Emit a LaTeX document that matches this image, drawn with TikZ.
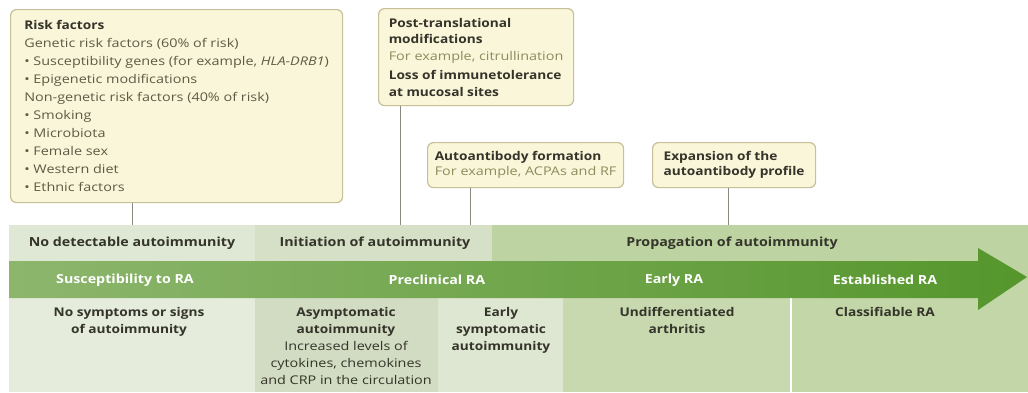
\documentclass[tikz,border=0pt]{standalone}
\usepackage{fontspec}
\setmainfont{Open Sans}[FakeStretch=1.2, BoldFeatures={FakeStretch=1.14}]
\usetikzlibrary{positioning, calc}
\definecolor{colorbox}{HTML}{FAF6DA}
\definecolor{colorboxline}{HTML}{C6BF98}
\definecolor{colortext}{HTML}{34342A}
\definecolor{colorsub}{HTML}{5C5B45}
\definecolor{colorolive}{HTML}{8E8B5C}
\definecolor{colorlink}{HTML}{8A8A80}
\definecolor{colorbandA}{HTML}{DFE8D4}
\definecolor{colorbandB}{HTML}{D5E0C6}
\definecolor{colorbandC}{HTML}{BED3A2}
\definecolor{colorrowA}{HTML}{E5ECDC}
\definecolor{colorrowB}{HTML}{D2DCC2}
\definecolor{colorrowC}{HTML}{DEE7D1}
\definecolor{colorrowD}{HTML}{C8D9B0}
\definecolor{colorrowE}{HTML}{C2D6A7}
\definecolor{colorarrowL}{HTML}{8DB66D}
\definecolor{colorarrowR}{HTML}{55962C}
\tikzstyle{box}=[draw=colorboxline, fill=colorbox, rounded corners=6pt, line width=1.2pt, anchor=north west, align=left, inner sep=0pt, text=colortext, font=\fontsize{12}{16.5}\selectfont]
\tikzstyle{link}=[draw=colorlink, line width=.8pt]
\tikzstyle{bandtext}=[text=colortext, font=\bfseries\fontsize{12.5}{14}\selectfont]
\tikzstyle{arrowtext}=[text=white, font=\bfseries\fontsize{12.5}{14}\selectfont]
\tikzstyle{rowtext}=[anchor=north, align=center, text=colortext, font=\fontsize{12}{17}\selectfont]

\begin{document}
\begin{tikzpicture}[x=1pt, y=-1pt, node distance=1em and .8em]
\useasboundingbox (0,0) rectangle (1028,392);

% bands
\fill[colorbandA] (9,225) rectangle (255,261);
\fill[colorbandB] (255,225) rectangle (492,261);
\fill[colorbandC] (492,225) rectangle (1028,280);
\fill[colorrowA] (9,298) rectangle (255,392);
\fill[colorrowB] (255,298) rectangle (438,392);
\fill[colorrowC] (438,298) rectangle (563,392);
\fill[colorrowD] (563,298) rectangle (791,392);
\fill[colorrowE] (791,280) rectangle (1028,392);
\draw[white, line width=1.5pt] (791,298) -- (791,392);
\shade[left color=colorarrowL, right color=colorarrowR] (9,261) -- (978,261) -- (978,248) -- (1027,277) -- (978,310) -- (978,298) -- (9,298) -- cycle;

% boxes
\node[box, text=colorsub, minimum width=332pt, minimum height=193pt, font=\fontsize{12}{18}\selectfont](risk) at (10,9){{\color{colortext}\textbf{Risk factors}}\\
Genetic risk factors (60\% of risk)\\
\textbullet~Susceptibility genes (for example, \textit{HLA-DRB1})\\
\textbullet~Epigenetic modifications\\
Non-genetic risk factors (40\% of risk)\\
\textbullet~Smoking\\
\textbullet~Microbiota\\
\textbullet~Female sex\\
\textbullet~Western diet\\
\textbullet~Ethnic factors};
\node[box, minimum width=195pt, minimum height=97pt](ptm) at (378,8){\textbf{Post-translational}\\
\textbf{modifications}\\
{\color{colorolive}For example, citrullination}\\[3pt]
\textbf{Loss of immunetolerance}\\
\textbf{at mucosal sites}};
\node[box, minimum width=196pt, minimum height=45pt, font=\fontsize{12}{15}\selectfont](aab) at (427,142){\textbf{Autoantibody formation}\\
{\color{colorolive}For example, ACPAs and RF}};
\node[box, minimum width=163pt, minimum height=45pt, font=\fontsize{12}{15}\selectfont](expand) at (652,142){\textbf{Expansion of the}\\
\textbf{autoantibody profile}};

\coordinate (riskend) at (132,225);
\coordinate (ptmend) at (400,225);
\coordinate (aabend) at (470,225);
\coordinate (expandend) at (728,225);
\draw[link] (risk.south -| riskend) -- (riskend);
\draw[link] (ptm.south -| ptmend) -- (ptmend);
\draw[link] (aab.south -| aabend) -- (aabend);
\draw[link] (expand.south -| expandend) -- (expandend);

% band labels
\node[bandtext](nodetect) at (132,243){No detectable autoimmunity};
\node[bandtext](initiation) at (375,243){Initiation of autoimmunity};
\node[bandtext](propagation) at (732,243){Propagation of autoimmunity};

% arrow labels
\node[arrowtext](suscept) at (125,280){Susceptibility to RA};
\node[arrowtext](preclin) at (437,280){Preclinical RA};
\node[arrowtext](early) at (674,280){Early RA};
\node[arrowtext](established) at (885,280){Established RA};

% stages
\node[rowtext](nosympt) at (129,304){\textbf{No symptoms or signs}\\\textbf{of autoimmunity}};
\node[rowtext](asympt) at (346,304){\textbf{Asymptomatic}\\\textbf{autoimmunity}\\Increased levels of\\cytokines, chemokines\\and CRP in the circulation};
\node[rowtext](earlysympt) at (501,304){\textbf{Early}\\\textbf{symptomatic}\\\textbf{autoimmunity}};
\node[rowtext](undiff) at (677,304){\textbf{Undifferentiated}\\\textbf{arthritis}};
\node[rowtext](classif) at (885,304){\textbf{Classifiable RA}};

\end{tikzpicture}
\end{document}
